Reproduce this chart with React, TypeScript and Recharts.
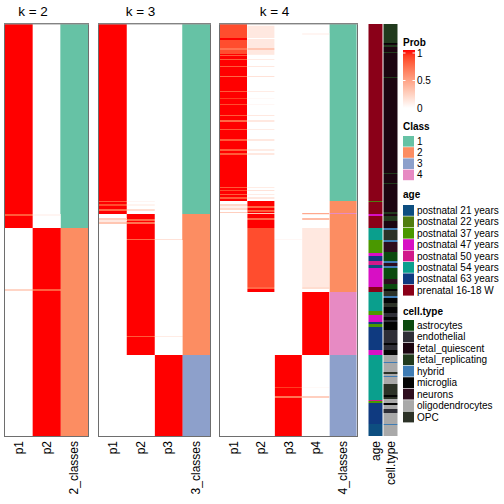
import React from 'react';
import { BarChart, Bar, XAxis, YAxis, Cell } from 'recharts';

type Seg = [number, number | string];

const N_ROWS = 412;

// ---- membership probabilities (run-length: [end row, value]) ----
const k2_p1: Seg[] = [[190,1],[192,0.8],[204,1],[265,0],[267,0.22],[412,0]];
const k2_p2: Seg[] = [[190,0],[192,0.05],[204,0],[265,1],[267,0.78],[412,1]];
const k2_classes: Seg[] = [[204,1],[412,2]];

const k3_p1: Seg[] = [[177,1],[178,0.8],[180,1],[182,0.85],[185,1],[187,0.75],[190,1],[194,0],[196,0.25],[198,0.12],[200,0.3],[412,0]];
const k3_p2: Seg[] = [[177,0],[178,0.05],[180,0],[182,0.06],[185,0],[187,0.18],[190,0],[195,1],[197,0.75],[198,1],[200,0.7],[215,1],[216,0.75],[312,1],[313,0.8],[331,1],[412,0]];
const k3_p3: Seg[] = [[215,0],[216,0.15],[312,0],[313,0.1],[331,0],[412,1]];
const k3_classes: Seg[] = [[190,1],[331,2],[412,3]];

const k4_p1: Seg[] = [[14,0.85],[16,1],[24,0.85],[26,0.7],[30,0.85],[31,1],[32,0.8],[35,1],[36,0.8],[42,1],[43,0.8],[52,1],[53,0.75],[67,1],[68,0.8],[74,1],[75,0.9],[80,1],[81,0.85],[91,1],[92,0.8],[96,1],[98,0.75],[105,1],[106,0.8],[115,1],[117,0.8],[125,1],[127,0.8],[129,1],[131,0.8],[163,1],[164,0.8],[166,1],[167,0.85],[170,1],[171,0.8],[173,1],[175,0.8],[177,1],[180,0],[182,0.2],[184,0.08],[186,0.2],[188,0],[189,0.25],[412,0]];
const k4_p2: Seg[] = [[2,0.03],[14,0.12],[15,0],[24,0.12],[26,0.3],[30,0.12],[31,0.1],[35,0],[36,0.1],[42,0],[43,0.12],[52,0],[53,0.15],[67,0],[68,0.1],[74,0],[75,0.03],[80,0],[81,0.04],[91,0],[92,0.12],[96,0],[98,0.12],[105,0],[106,0.1],[115,0],[117,0.12],[125,0],[127,0.1],[129,0],[131,0.12],[163,0],[164,0.1],[166,0],[167,0.15],[170,0],[171,0.1],[173,0],[175,0.12],[177,0],[182,1],[184,0.75],[186,1],[188,0.8],[189,1],[190,0.3],[194,1],[196,0.75],[204,1],[263,0.85],[265,0.75],[268,1],[412,0]];
const k4_p3: Seg[] = [[215,0],[216,0.04],[331,0],[363,1],[364,0.9],[372,1],[374,0.7],[412,1]];
const k4_p4: Seg[] = [[9,0],[11,0.05],[189,0],[190,0.45],[191,0.1],[194,0],[196,0.35],[204,0],[263,0.12],[265,0.18],[268,0],[331,1],[363,0],[364,0.03],[372,0],[374,0.25],[412,0]];
const k4_classes: Seg[] = [[177,1],[189,2],[190,4],[268,2],[331,4],[412,3]];

// ---- sample annotations ----
const ageSegs: Seg[] = [[177,'prenatal 16-18 W'],[178,'postnatal 22 years'],[190,'prenatal 16-18 W'],[192,'postnatal 47 years'],[204,'prenatal 16-18 W'],[216,'postnatal 54 years'],[229,'postnatal 37 years'],[232,'postnatal 47 years'],[237,'postnatal 63 years'],[241,'postnatal 50 years'],[244,'postnatal 21 years'],[263,'postnatal 47 years'],[268,'prenatal 16-18 W'],[287,'postnatal 54 years'],[291,'postnatal 37 years'],[298,'postnatal 47 years'],[300,'postnatal 63 years'],[303,'postnatal 37 years'],[326,'postnatal 63 years'],[331,'postnatal 47 years'],[376,'postnatal 54 years'],[377,'postnatal 50 years'],[379,'postnatal 37 years'],[400,'postnatal 63 years'],[412,'postnatal 21 years']];
const cellSegs: Seg[] = [[19,'fetal_replicating'],[20,'microglia'],[21,'fetal_quiescent'],[23,'fetal_replicating'],[28,'fetal_quiescent'],[29,'fetal_replicating'],[53,'fetal_quiescent'],[54,'fetal_replicating'],[149,'fetal_quiescent'],[150,'fetal_replicating'],[159,'fetal_quiescent'],[160,'fetal_replicating'],[188,'fetal_quiescent'],[190,'fetal_replicating'],[192,'fetal_quiescent'],[197,'fetal_replicating'],[204,'fetal_quiescent'],[206,'hybrid'],[216,'OPC'],[218,'hybrid'],[228,'neurons'],[237,'astrocytes'],[239,'hybrid'],[242,'neurons'],[244,'hybrid'],[255,'astrocytes'],[260,'neurons'],[265,'astrocytes'],[267,'microglia'],[272,'OPC'],[274,'hybrid'],[279,'microglia'],[283,'OPC'],[289,'microglia'],[293,'endothelial'],[296,'microglia'],[298,'endothelial'],[306,'microglia'],[319,'endothelial'],[321,'microglia'],[326,'endothelial'],[331,'microglia'],[338,'oligodendrocytes'],[339,'hybrid'],[348,'oligodendrocytes'],[350,'OPC'],[352,'oligodendrocytes'],[353,'hybrid'],[360,'oligodendrocytes'],[371,'OPC'],[373,'microglia'],[375,'OPC'],[379,'oligodendrocytes'],[381,'microglia'],[385,'oligodendrocytes'],[389,'endothelial'],[400,'oligodendrocytes'],[401,'hybrid'],[412,'oligodendrocytes']];

// ---- legend levels ----
const CLASS_LEVELS = ['1', '2', '3', '4'];
const CLASS_COLORS = ['#66C2A5', '#FC8D62', '#8DA0CB', '#E78AC3'];
const AGE_LEVELS = ['postnatal 21 years','postnatal 22 years','postnatal 37 years','postnatal 47 years','postnatal 50 years','postnatal 54 years','postnatal 63 years','prenatal 16-18 W'];
const AGE_COLORS = ['#0D4E80','#4F7D10','#4A9800','#D70FC4','#D11A8A','#0A9F8D','#0F3A80','#8A0018'];
const CELL_LEVELS = ['astrocytes','endothelial','fetal_quiescent','fetal_replicating','hybrid','microglia','neurons','oligodendrocytes','OPC'];
const CELL_COLORS = ['#0B4A0E','#2E2E36','#1B0510','#213A1D','#3E7CB4','#040404','#2E0D1E','#A9A9A9','#2C3227'];
const PROB_TICKS = [1, 0.5, 0];

// white -> red interpolation in LAB space
function probColor(v: number): string {
  const L = 100 + (53.2408 - 100) * v;
  const A = 80.0925 * v;
  const B = 67.2032 * v;
  const fy = (L + 16) / 116, fx = fy + A / 500, fz = fy - B / 200;
  const inv = (t: number) => (t * t * t > 0.008856 ? t * t * t : (t - 16 / 116) / 7.787);
  const X = 0.95047 * inv(fx), Y = inv(fy), Z = 1.08883 * inv(fz);
  const lin = [
    3.2404542 * X - 1.5371385 * Y - 0.4985314 * Z,
    -0.969266 * X + 1.8760108 * Y + 0.041556 * Z,
    0.0556434 * X - 0.2040259 * Y + 1.0572252 * Z,
  ];
  const hex = lin.map((c) => {
    const g = c <= 0.0031308 ? 12.92 * c : 1.055 * Math.pow(Math.max(c, 0), 1 / 2.4) - 0.055;
    const n = Math.round(Math.min(1, Math.max(0, g)) * 255);
    return n.toString(16).padStart(2, '0');
  });
  return '#' + hex.join('');
}
const classColor = (v: number | string) => CLASS_COLORS[CLASS_LEVELS.indexOf(String(v))];
const ageColor = (v: number | string) => AGE_COLORS[AGE_LEVELS.indexOf(String(v))];
const cellColor = (v: number | string) => CELL_COLORS[CELL_LEVELS.indexOf(String(v))];
const pColor = (v: number | string) => probColor(Number(v));

type Col = { name: string; segs: Seg[]; color: (v: number | string) => string };

const FONT = '"Liberation Sans", Arial, Helvetica, sans-serif';

const RotTick = (props: any) => {
  const { x, y, payload } = props;
  return (
    <text x={x} y={y} transform={`rotate(-90 ${x} ${y})`} textAnchor="end" dominantBaseline="central"
      fontSize={12} fill="#000" fontFamily={FONT}>{payload.value}</text>
  );
};

function Panel({ cols, width, left, gap, border }: { cols: Col[]; width: number; left: number; gap: number; border: boolean }) {
  const maxSegs = Math.max(...cols.map((c) => c.segs.length));
  const data = cols.map((c) => {
    const row: any = { name: c.name };
    let prev = 0;
    for (let i = 0; i < maxSegs; i++) {
      const s = c.segs[i];
      if (s) { row['s' + i] = s[0] - prev; prev = s[0]; } else row['s' + i] = 0;
    }
    return row;
  });
  const keys = Array.from({ length: maxSegs }, (_, i) => i);
  return (
    <div style={{ position: 'absolute', left, top: 24 }}>
      <BarChart width={width} height={N_ROWS + 62} data={data} margin={{ top: 0, right: 0, bottom: 0, left: 0 }}
        barCategoryGap={gap} barGap={0}>
        <XAxis dataKey="name" type="category" height={62} tickLine={false} axisLine={false} tickSize={0} tickMargin={5}
          interval={0} tick={(p: any) => <RotTick {...p} />} />
        <YAxis type="number" domain={[0, N_ROWS]} reversed hide allowDataOverflow />
        {keys.map((i) => (
          <Bar key={i} dataKey={'s' + i} stackId="a" isAnimationActive={false}>
            {cols.map((c, ci) => (
              <Cell key={ci} fill={c.segs[i] ? c.color(c.segs[i][1]) : 'none'} />
            ))}
          </Bar>
        ))}
      </BarChart>
      {border && (
        <svg width={width + 2} height={N_ROWS + 2} style={{ position: 'absolute', left: -1, top: -1, pointerEvents: 'none' }}>
          <rect x={0.5} y={0.5} width={width + 1} height={N_ROWS + 1} fill="none" stroke="#6e6e6e" strokeWidth={1} />
          <line x1={0} x2={width + 2} y1={1} y2={1} stroke="#999" strokeWidth={1} />
        </svg>
      )}
    </div>
  );
}

const k2Cols: Col[] = [
  { name: 'p1', segs: k2_p1, color: pColor },
  { name: 'p2', segs: k2_p2, color: pColor },
  { name: '2_classes', segs: k2_classes, color: classColor },
];
const k3Cols: Col[] = [
  { name: 'p1', segs: k3_p1, color: pColor },
  { name: 'p2', segs: k3_p2, color: pColor },
  { name: 'p3', segs: k3_p3, color: pColor },
  { name: '3_classes', segs: k3_classes, color: classColor },
];
const k4Cols: Col[] = [
  { name: 'p1', segs: k4_p1, color: pColor },
  { name: 'p2', segs: k4_p2, color: pColor },
  { name: 'p3', segs: k4_p3, color: pColor },
  { name: 'p4', segs: k4_p4, color: pColor },
  { name: '4_classes', segs: k4_classes, color: classColor },
];
const annoCols: Col[] = [
  { name: 'age', segs: ageSegs, color: ageColor },
  { name: 'cell.type', segs: cellSegs, color: cellColor },
];

function Legend() {
  const lx = 403;
  const tx = 417;
  const gradStops = Array.from({ length: 11 }, (_, i) => i / 10);
  const barTop = 50, barBot = 108;
  const tickY = (v: number) => barTop + 3 + (1 - v) * (barBot - barTop - 3);
  return (
    <g fontFamily={FONT} fontSize={10} fill="#000">
      <defs>
        <linearGradient id="probGrad" x1="0" y1="0" x2="0" y2="1">
          {gradStops.map((t) => <stop key={t} offset={t} stopColor={probColor(1 - t)} />)}
        </linearGradient>
      </defs>
      <text x={lx} y={46} fontWeight="bold">Prob</text>
      <rect x={lx} y={barTop} width={12} height={barBot - barTop} fill="url(#probGrad)" />
      {PROB_TICKS.map((v) => (
        <g key={v}>
          {v > 0 && <line x1={lx} x2={lx + 2.5} y1={tickY(v)} y2={tickY(v)} stroke="#fff" strokeWidth={1} />}
          {v > 0 && <line x1={lx + 9.5} x2={lx + 12} y1={tickY(v)} y2={tickY(v)} stroke="#fff" strokeWidth={1} />}
          <text x={tx} y={tickY(v)} dominantBaseline="central">{v}</text>
        </g>
      ))}
      <text x={lx} y={129.5} fontWeight="bold">Class</text>
      {CLASS_LEVELS.map((l, i) => (
        <g key={l}>
          <rect x={lx} y={136 + i * 11.2} width={11} height={10.6} fill={CLASS_COLORS[i]} />
          <text x={tx} y={136 + i * 11.2 + 5.3} dominantBaseline="central">{l}</text>
        </g>
      ))}
      <text x={lx} y={198} fontWeight="bold">age</text>
      {AGE_LEVELS.map((l, i) => (
        <g key={l}>
          <rect x={lx} y={205 + i * 11.4} width={11} height={10.8} fill={AGE_COLORS[i]} />
          <text x={tx} y={205 + i * 11.4 + 5.4} dominantBaseline="central">{l}</text>
        </g>
      ))}
      <text x={lx} y={314.5} fontWeight="bold">cell.type</text>
      {CELL_LEVELS.map((l, i) => (
        <g key={l}>
          <rect x={lx} y={320 + i * 11.45} width={11} height={10.8} fill={CELL_COLORS[i]} />
          <text x={tx} y={320 + i * 11.45 + 5.4} dominantBaseline="central">{l}</text>
        </g>
      ))}
    </g>
  );
}

export default function App() {
  return (
    <div style={{ position: 'absolute', left: 0, top: 0, width: 504, height: 504, background: '#fff', fontFamily: FONT }}>
      <Panel cols={k2Cols} width={83} left={5} gap={0} border />
      <Panel cols={k3Cols} width={111} left={99} gap={0} border />
      <Panel cols={k4Cols} width={137} left={220} gap={0} border />
      <Panel cols={annoCols} width={30} left={367.5} gap={0.5} border={false} />
      <svg width={504} height={504} style={{ position: 'absolute', left: 0, top: 0, pointerEvents: 'none' }}>
        <g fontFamily={FONT} fontSize={13.5} textAnchor="middle" fill="#000">
          <text x={33} y={15.5}>k = 2</text>
          <text x={140.5} y={15.5}>k = 3</text>
          <text x={274.5} y={15.5}>k = 4</text>
        </g>
        <Legend />
      </svg>
    </div>
  );
}
